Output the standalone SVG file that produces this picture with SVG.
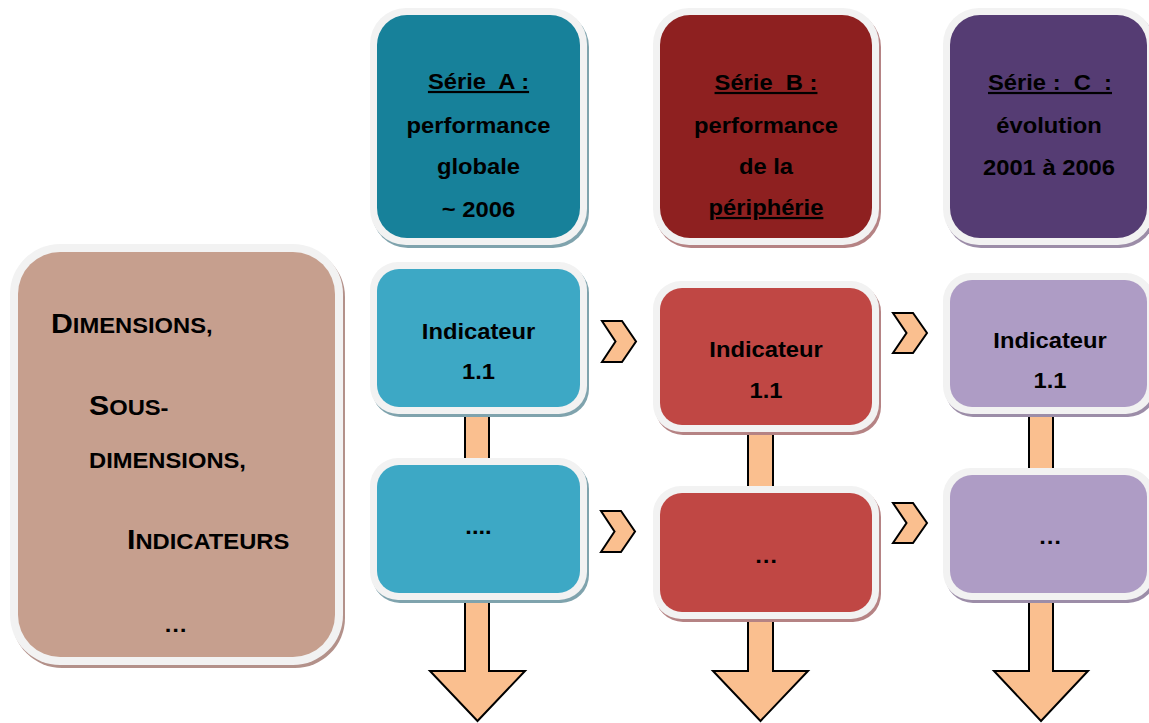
<svg xmlns="http://www.w3.org/2000/svg" width="1149" height="723" viewBox="0 0 1149 723">
  <style>
    .lbl { font-family: "Liberation Sans", Arial, sans-serif; font-weight: bold; font-size: 22px; fill: #000; text-anchor: middle; white-space: pre; }
    .lft { font-family: "Liberation Sans", Arial, sans-serif; font-weight: bold; font-size: 22px; fill: #000; text-anchor: start; }
    .big { font-size: 28px; }
    .ul { text-decoration: underline; }
    .rim { fill: #F2F2F2; }
    .flow { fill: #FABF8F; stroke: #000; stroke-width: 2; stroke-linejoin: miter; }
    .sh-a { fill: #7FA3AD; }
    .sh-b { fill: #B58384; }
    .sh-c { fill: #9C8DA8; }
    .sh-d { fill: #B3918A; }
  </style>

  <!-- connectors: vertical flow arrows behind the boxes, chevrons between columns -->
  <g id="connectors">
    <polygon class="flow" points="465,400 465,671 430,671 477.5,721 525,671 489,671 489,400"/>
    <polygon class="flow" points="748,420 748,671 713,671 760.5,721 808,671 773,671 773,420"/>
    <polygon class="flow" points="1029,400 1029,671 994,671 1041,721 1088,671 1053,671 1053,400"/>
    <polygon class="flow" points="602,321 622,321 636,341.5 622,362 602,362 615.5,341.5"/>
    <polygon class="flow" points="601,511 621,511 635,531.5 621,552 601,552 614.5,531.5"/>
    <polygon class="flow" points="893,313 913,313 927,333 913,353 893,353 906.5,333"/>
    <polygon class="flow" points="893,503 913,503 927,523 913,543 893,543 906.5,523"/>
  </g>

  <!-- left legend box -->
  <g id="legend">
    <rect class="sh-d" x="12" y="247" width="333" height="421" rx="50"/>
    <rect class="rim" x="10" y="244" width="333" height="421" rx="50"/>
    <rect x="18" y="252" width="317" height="405" rx="42" fill="#C69F8E"/>
    <text class="lft" transform="translate(51,333) scale(1.08,1)"><tspan class="big">D</tspan>IMENSIONS,</text>
    <text class="lft" transform="translate(89,415) scale(1.08,1)"><tspan class="big">S</tspan>OUS-</text>
    <text class="lft" transform="translate(89,468) scale(1.08,1)">DIMENSIONS,</text>
    <text class="lft" transform="translate(127,549) scale(1.08,1)"><tspan class="big">I</tspan>NDICATEURS</text>
    <text class="lbl" transform="translate(175.5,632) scale(1.08,1)">…</text>
  </g>

  <!-- series A column -->
  <g id="serie-a">
    <rect class="sh-a" x="372" y="11" width="217" height="237" rx="36"/>
    <rect class="rim" x="370" y="8" width="217" height="237" rx="36"/>
    <rect x="377" y="15" width="203" height="223" rx="30" fill="#17819A"/>
    <text class="lbl ul" transform="translate(478.5,89) scale(1.08,1)">Série  A :</text>
    <text class="lbl" transform="translate(478.5,133) scale(1.08,1)">performance</text>
    <text class="lbl" transform="translate(478.5,174) scale(1.08,1)">globale</text>
    <text class="lbl" transform="translate(478.5,217) scale(1.08,1)">~ 2006</text>
  </g>
  <g id="a-indicateur">
    <rect class="sh-a" x="372" y="265" width="217" height="152" rx="28"/>
    <rect class="rim" x="370" y="262" width="217" height="152" rx="28"/>
    <rect x="377" y="269" width="203" height="138" rx="22" fill="#3DA8C5"/>
    <text class="lbl" transform="translate(478.5,339) scale(1.08,1)">Indicateur</text>
    <text class="lbl" transform="translate(478.5,379) scale(1.08,1)">1.1</text>
  </g>
  <g id="a-suite">
    <rect class="sh-a" x="372" y="461" width="217" height="142" rx="28"/>
    <rect class="rim" x="370" y="458" width="217" height="142" rx="28"/>
    <rect x="377" y="465" width="203" height="128" rx="22" fill="#3DA8C5"/>
    <text class="lbl" transform="translate(478.5,534) scale(1.08,1)">....</text>
  </g>

  <!-- series B column -->
  <g id="serie-b">
    <rect class="sh-b" x="655" y="11" width="226" height="237" rx="36"/>
    <rect class="rim" x="653" y="8" width="226" height="237" rx="36"/>
    <rect x="660" y="15" width="212" height="223" rx="30" fill="#8E2020"/>
    <text class="lbl ul" transform="translate(766,90) scale(1.08,1)">Série  B :</text>
    <text class="lbl" transform="translate(766,133) scale(1.08,1)">performance</text>
    <text class="lbl" transform="translate(766,174) scale(1.08,1)">de la</text>
    <text class="lbl ul" transform="translate(766,215) scale(1.08,1)">périphérie</text>
  </g>
  <g id="b-indicateur">
    <rect class="sh-b" x="655" y="284" width="226" height="151" rx="28"/>
    <rect class="rim" x="653" y="281" width="226" height="151" rx="28"/>
    <rect x="660" y="288" width="212" height="137" rx="22" fill="#C04744"/>
    <text class="lbl" transform="translate(766,357) scale(1.08,1)">Indicateur</text>
    <text class="lbl" transform="translate(766,398) scale(1.08,1)">1.1</text>
  </g>
  <g id="b-suite">
    <rect class="sh-b" x="655" y="489" width="226" height="133" rx="28"/>
    <rect class="rim" x="653" y="486" width="226" height="133" rx="28"/>
    <rect x="660" y="493" width="212" height="119" rx="22" fill="#C04744"/>
    <text class="lbl" transform="translate(766,563) scale(1.08,1)">…</text>
  </g>

  <!-- series C column -->
  <g id="serie-c">
    <rect class="sh-c" x="945" y="11" width="211" height="237" rx="36"/>
    <rect class="rim" x="943" y="8" width="211" height="237" rx="36"/>
    <rect x="950" y="15" width="197" height="223" rx="30" fill="#553C73"/>
    <text class="lbl ul" transform="translate(1050,90) scale(1.08,1)">Série :  C  :</text>
    <text class="lbl" transform="translate(1049,133) scale(1.08,1)">évolution</text>
    <text class="lbl" transform="translate(1049,175) scale(1.08,1)">2001 à 2006</text>
  </g>
  <g id="c-indicateur">
    <rect class="sh-c" x="945" y="276" width="211" height="141" rx="28"/>
    <rect class="rim" x="943" y="273" width="211" height="141" rx="28"/>
    <rect x="950" y="280" width="197" height="127" rx="22" fill="#AE9CC5"/>
    <text class="lbl" transform="translate(1050,348) scale(1.08,1)">Indicateur</text>
    <text class="lbl" transform="translate(1050,388) scale(1.08,1)">1.1</text>
  </g>
  <g id="c-suite">
    <rect class="sh-c" x="945" y="471" width="211" height="132" rx="28"/>
    <rect class="rim" x="943" y="468" width="211" height="132" rx="28"/>
    <rect x="950" y="475" width="197" height="118" rx="22" fill="#AE9CC5"/>
    <text class="lbl" transform="translate(1050,544) scale(1.08,1)">…</text>
  </g>
</svg>
